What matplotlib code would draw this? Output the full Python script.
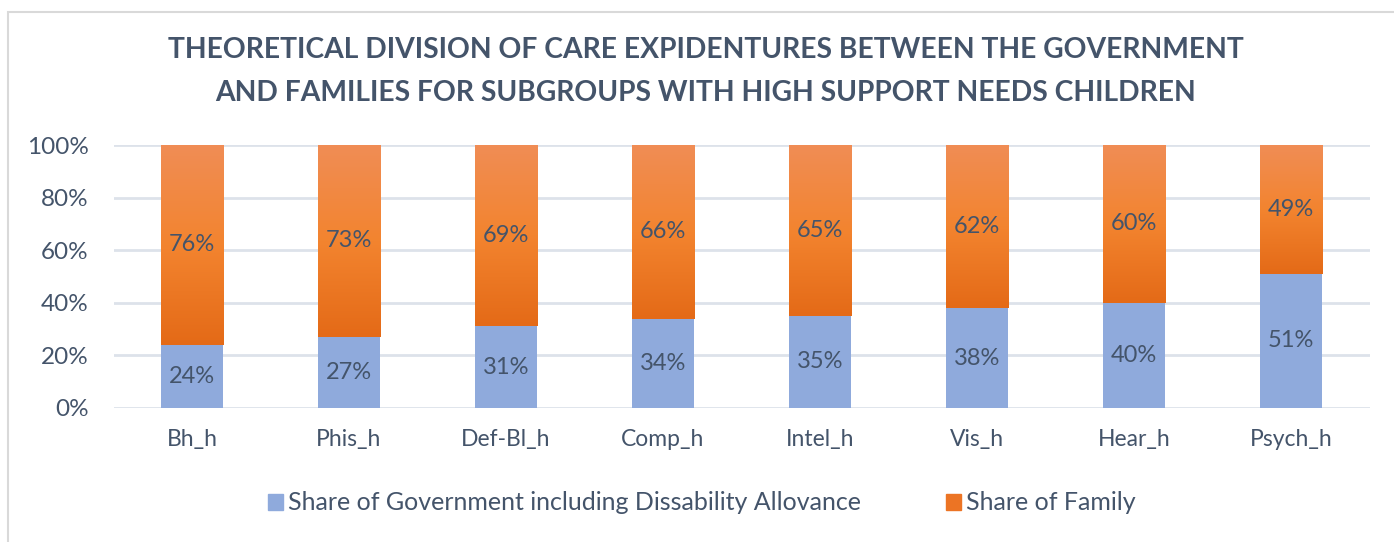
import numpy as np
import matplotlib
matplotlib.use("Agg")
import matplotlib.pyplot as plt
from matplotlib.patches import Rectangle
from matplotlib.colors import LinearSegmentedColormap

# data
categories = ["Bh_h", "Phis_h", "Def-Bl_h", "Comp_h", "Intel_h", "Vis_h", "Hear_h", "Psych_h"]
gov_share = [24, 27, 31, 34, 35, 38, 40, 51]
family_share = [76, 73, 69, 66, 65, 62, 60, 49]

txt_color = "#44546a"
blue = "#8faadc"
plt.rcParams['font.family'] = ['Lato', 'DejaVu Sans']

fig = plt.figure(figsize=(13.94, 5.42), dpi=100)
ax = fig.add_axes([113.5 / 1394, (542 - 408) / 542, 1256 / 1394, (408 - 145) / 542])

# chart border
fig.patches.append(Rectangle((8 / 1394, -0.1), 1.2, (542 - 12) / 542 + 0.1,
                             transform=fig.transFigure, fill=False,
                             edgecolor="#d9d9d9", linewidth=1.5))

x = np.arange(len(categories))
width = 0.40
orange_cmap = LinearSegmentedColormap.from_list("og", ["#e46a17", "#f3842f", "#f08d55"])

bars_gov = ax.bar(x, gov_share, width, color=blue, zorder=2,
                  label="Share of Government including Dissability Allovance")
bars_fam = ax.bar(x, family_share, width, bottom=gov_share, color="#ed7d31", zorder=2,
                  label="Share of Family")

# gradient fill for family bars
grad = np.linspace(0, 1, 256).reshape(-1, 1)
for b in bars_fam:
    x0, y0 = b.get_x(), b.get_y()
    w, h = b.get_width(), b.get_height()
    b.set_facecolor("none")
    im = ax.imshow(grad, cmap=orange_cmap, aspect="auto", origin="lower",
                   extent=(x0, x0 + w, y0, y0 + h), zorder=2.5)
    im.set_clip_path(b)

for i in range(len(categories)):
    ax.text(x[i], gov_share[i] / 2, f"{gov_share[i]}%", ha="center", va="center",
            fontsize=17, color=txt_color, zorder=4)
    ax.text(x[i], gov_share[i] + family_share[i] / 2, f"{family_share[i]}%", ha="center",
            va="center", fontsize=17, color=txt_color, zorder=4)

ax.set_xlim(-0.5, len(categories) - 0.5)
ax.set_ylim(0, 100)
ax.set_yticks(range(0, 101, 20))
ax.set_yticklabels([f"{v}%" for v in range(0, 101, 20)])
ax.set_xticks(x)
ax.set_xticklabels(categories)
ax.tick_params(axis="y", length=0, labelsize=17.5, labelcolor=txt_color, pad=18)
ax.tick_params(axis="x", length=0, labelsize=16.5, labelcolor=txt_color, pad=15)
ax.yaxis.grid(True, color="#dde2ea", linewidth=2, zorder=0)
ax.set_axisbelow(True)
for s in ax.spines.values():
    s.set_visible(False)

fig.text(706 / 1394, 1 - 50 / 542, "THEORETICAL DIVISION OF CARE EXPIDENTURES BETWEEN THE GOVERNMENT",
         ha="center", va="center", fontsize=20.3, fontweight="bold", color=txt_color)
fig.text(706 / 1394, 1 - 93 / 542, "AND FAMILIES FOR SUBGROUPS WITH HIGH SUPPORT NEEDS CHILDREN",
         ha="center", va="center", fontsize=20.3, fontweight="bold", color=txt_color)

handles = [Rectangle((0, 0), 1, 1, color=blue), Rectangle((0, 0), 1, 1, color="#ec7424")]
leg = fig.legend(handles, [bars_gov.get_label(), bars_fam.get_label()], loc="center",
                 bbox_to_anchor=(702 / 1394, 1 - 503 / 542), ncol=2, frameon=False,
                 fontsize=18, handlelength=0.6, handleheight=0.6, handletextpad=0.2,
                 columnspacing=3.4)
for t in leg.get_texts():
    t.set_color(txt_color)

fig.savefig("out.png", dpi=100, facecolor="white")
